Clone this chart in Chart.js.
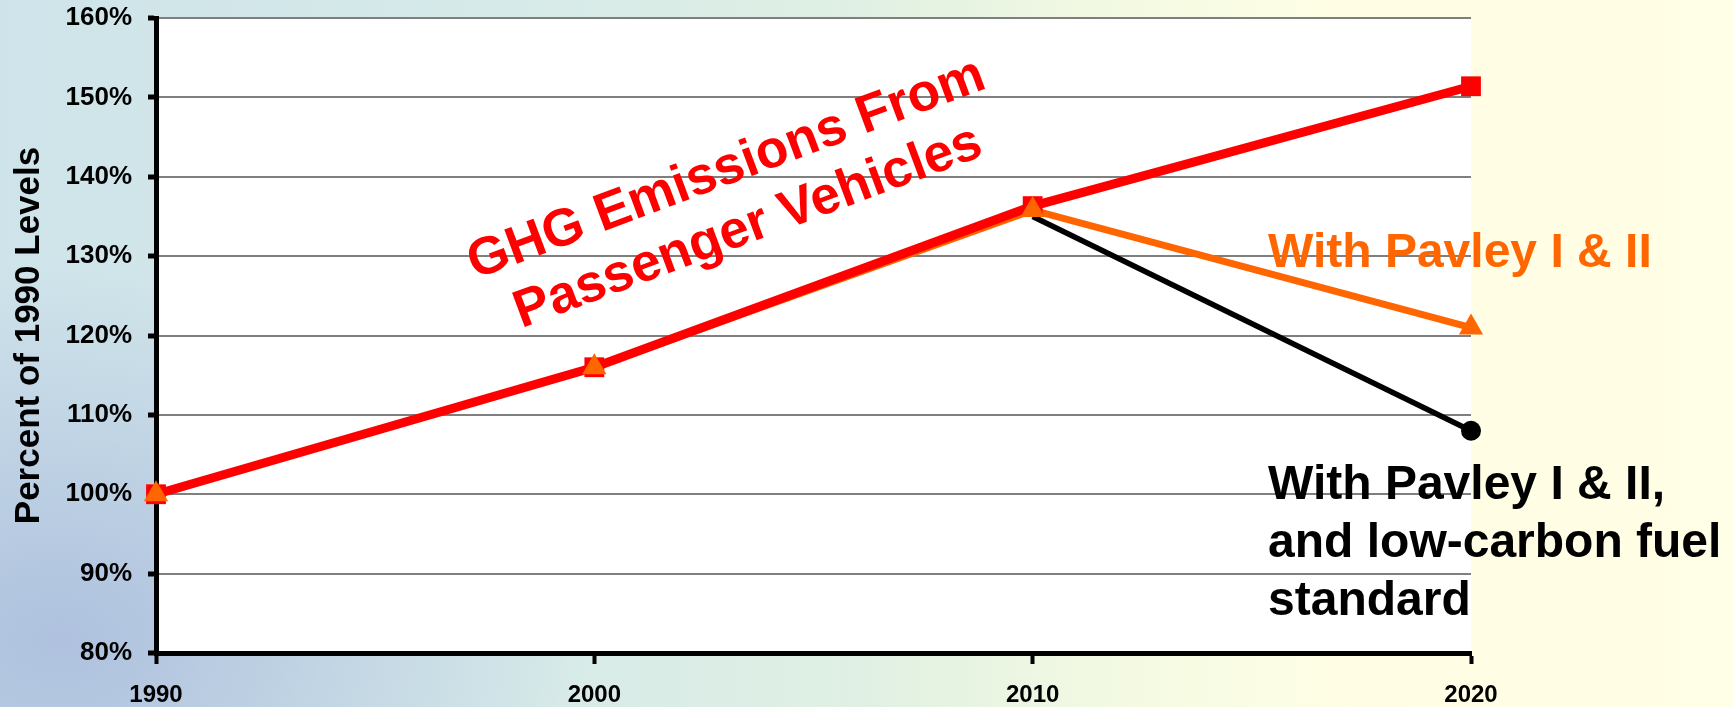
<!DOCTYPE html>
<html>
<head>
<meta charset="utf-8">
<script src="https://cdn.jsdelivr.net/npm/chart.js@4.4.1/dist/chart.umd.min.js"></script>
<style>
  html, body { margin: 0; padding: 0; }
  body {
    width: 1733px; height: 707px; overflow: hidden;
    background:
      radial-gradient(ellipse 520px 380px at 60px 640px, rgba(168,186,220,0.85), rgba(168,186,220,0) 100%),
      linear-gradient(to right, #cfe4ea 0%, #d6eae9 30%, #e0f0e3 50%, #f4fae2 65%, #fffee5 78%, #fffee6 100%);
  }
</style>
</head>
<body>
<canvas id="ghgChart" width="1733" height="707"></canvas>
<script>
// values (percent of 1990 levels)
const years = ['1990', '2000', '2010', '2020'];
const ghgLevels = [100, 116, 136.3, 151.4];
const pavleyLevels = [100, 116, 135.8, 121];
const lcfsLevels = [null, null, 135, 108];

const yAxisTitle = 'Percent of 1990 Levels';
const ghgNote = ['GHG Emissions From', 'Passenger Vehicles'];
const pavleyNote = ['With Pavley I & II'];
const lcfsNote = ['With Pavley I & II,', 'and low-carbon fuel', 'standard'];

const FONT = '"Liberation Sans", Arial, sans-serif';

// white plot area on top of the slide background
const plotBackground = {
  id: 'plotBackground',
  beforeDraw(chart) {
    const { ctx, chartArea: a } = chart;
    ctx.save();
    ctx.fillStyle = '#ffffff';
    ctx.fillRect(a.left, a.top, a.right - a.left, a.bottom - a.top);
    ctx.restore();
  }
};

// text labels placed in data coordinates
const chartNotes = {
  id: 'chartNotes',
  afterDraw(chart) {
    const { ctx, scales: { x, y } } = chart;
    ctx.save();

    // tilted red label
    ctx.save();
    ctx.font = 'bold 53px ' + FONT;
    ctx.fillStyle = '#ff0000';
    ctx.translate(x.getPixelForValue(1.338), y.getPixelForValue(135.5));
    ctx.rotate(-20.5 * Math.PI / 180);
    ctx.textAlign = 'center';
    ctx.fillText(ghgNote[0], 0, -31);
    ctx.fillText(ghgNote[1], 0, 31);
    ctx.restore();

    ctx.font = 'bold 48px ' + FONT;
    ctx.textAlign = 'left';
    ctx.fillStyle = '#ff6600';
    ctx.fillText(pavleyNote[0], x.getPixelForValue(2.537), y.getPixelForValue(128.6));

    ctx.fillStyle = '#000000';
    const baseY = y.getPixelForValue(99.4);
    lcfsNote.forEach((line, i) => {
      ctx.fillText(line, x.getPixelForValue(2.537), baseY + i * 58);
    });
    ctx.restore();
  }
};

const data = {
  labels: years,
  datasets: [
    {
      // orange markers sit on top of the red ones
      label: 'With Pavley I & II markers',
      data: pavleyLevels,
      showLine: false,
      backgroundColor: '#ff6600',
      pointStyle: 'triangle',
      pointRadius: 14,
      pointBorderWidth: 0,
      order: 0
    },
    {
      label: 'GHG Emissions From Passenger Vehicles',
      data: ghgLevels,
      borderColor: '#ff0000',
      backgroundColor: '#ff0000',
      borderWidth: 9,
      pointStyle: 'rect',
      pointRadius: 14,
      pointBorderWidth: 0,
      tension: 0,
      order: 1
    },
    {
      label: 'With Pavley I & II',
      data: pavleyLevels,
      borderColor: '#ff6600',
      borderWidth: 7,
      pointRadius: 0,
      tension: 0,
      order: 2
    },
    {
      label: 'With Pavley I & II, and low-carbon fuel standard',
      data: lcfsLevels,
      borderColor: '#000000',
      backgroundColor: '#000000',
      borderWidth: 5.5,
      pointStyle: 'circle',
      pointRadius: [0, 0, 0, 10],
      pointBorderWidth: 0,
      tension: 0,
      order: 3
    }
  ]
};

var ctx = document.getElementById('ghgChart').getContext('2d');

var myChart = new Chart(ctx, {
  type: 'line',
  data: data,
  plugins: [plotBackground, chartNotes],
  options: {
    responsive: false,
    animation: false,
    layout: { padding: { top: 18, right: 262, left: 0, bottom: 0 } },
    plugins: {
      legend: { display: false },
      tooltip: { enabled: false }
    },
    scales: {
      x: {
        grid: {
          drawOnChartArea: false,
          tickLength: 11,
          tickColor: '#000000',
          tickWidth: 4
        },
        border: { color: '#000000', width: 5 },
        ticks: {
          color: '#000000',
          padding: 17,
          maxRotation: 0,
          font: { family: FONT, size: 24, weight: 'bold' }
        },
        afterFit(scale) { scale.height = 54; }
      },
      y: {
        min: 80,
        max: 160,
        grid: {
          color: '#7f7f7f',
          lineWidth: 2,
          tickLength: 8,
          tickColor: '#000000',
          tickWidth: 5
        },
        border: { color: '#000000', width: 5 },
        ticks: {
          stepSize: 10,
          color: '#000000',
          padding: 16,
          font: { family: FONT, size: 26, weight: 'bold' },
          callback: v => v + '%'
        },
        title: {
          display: true,
          text: yAxisTitle,
          color: '#000000',
          padding: { top: 8, bottom: 0 },
          font: { family: FONT, size: 35, weight: 'bold' }
        },
        afterFit(scale) {
          scale.width = 156;
          scale.paddingTop = 0;
          scale.paddingBottom = 0;
        }
      }
    }
  }
});
</script>
</body>
</html>
